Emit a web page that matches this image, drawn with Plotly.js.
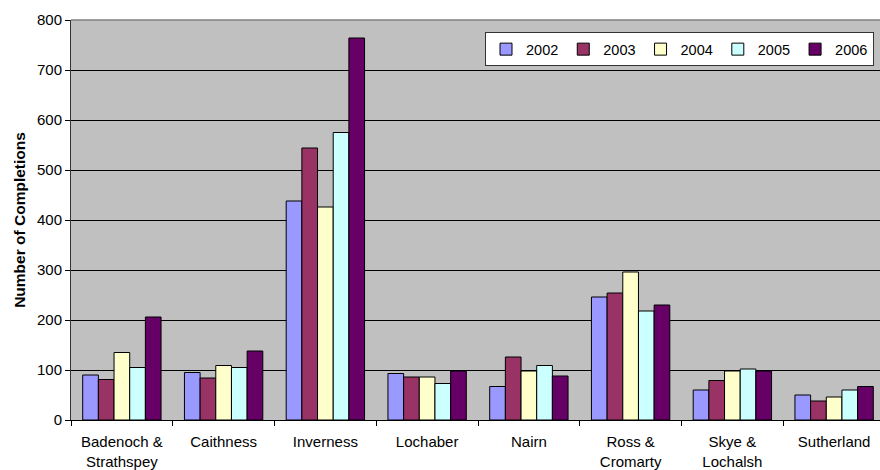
<!DOCTYPE html>
<html>
<head>
<meta charset="utf-8">
<script src="https://cdn.plot.ly/plotly-3.0.1.min.js"></script>
<style>
html,body{margin:0;padding:0;overflow:hidden;background:#fff;}
#chart{width:885px;height:470px;}
</style>
</head>
<body>
<div id="chart"></div>
<script>
var categories = ["Badenoch &<br>Strathspey","Caithness","Inverness","Lochaber","Nairn","Ross &<br>Cromarty","Skye &<br>Lochalsh","Sutherland"];
var years = ["2002","2003","2004","2005","2006"];
var v2002 = [90, 95, 438, 93, 67, 246, 60, 50];
var v2003 = [81, 84, 544, 86, 126, 254, 79, 38];
var v2004 = [135, 109, 426, 86, 98, 296, 98, 46];
var v2005 = [105, 105, 575, 73, 109, 218, 102, 60];
var v2006 = [206, 138, 764, 98, 88, 230, 98, 67];
var seriesValues = [v2002, v2003, v2004, v2005, v2006];
var colors = ["#9999FF","#993366","#FFFFCC","#CCFFFF","#660066"];
var yTicks = [0,100,200,300,400,500,600,700,800];

var FONT = "Liberation Sans, Arial, sans-serif";
var traces = years.map(function(y,i){
  return {
    type: "bar",
    name: y,
    x: categories,
    y: seriesValues[i],
    marker: {color: colors[i], line: {color: "#000000", width: 1}},
    hoverinfo: "none"
  };
});

var layout = {
  width: 885,
  height: 470,
  margin: {l: 71, r: 0, t: 19.5, b: 50, pad: 0},
  paper_bgcolor: "#ffffff",
  plot_bgcolor: "#C0C0C0",
  barmode: "group",
  bargap: 0.23,
  bargroupgap: 0,
  font: {family: FONT, color: "#000000", size: 14.5},
  showlegend: true,
  legend: {
    orientation: "h",
    x: 0.9865, xanchor: "right",
    y: 0.9695, yanchor: "top",
    bgcolor: "#ffffff",
    bordercolor: "#333333",
    borderwidth: 1,
    font: {family: FONT, size: 14.5, color: "#000000"},
    itemwidth: 30,
    traceorder: "normal"
  },
  xaxis: {
    type: "category",
    range: [-0.5, 7.5],
    tickson: "boundaries",
    ticks: "outside",
    ticklen: 5,
    tickcolor: "#000000",
    ticklabelstandoff: 8,
    showline: true,
    linecolor: "#000000",
    linewidth: 1,
    showgrid: false,
    tickfont: {family: FONT, size: 15, color: "#000000"},
    fixedrange: true
  },
  yaxis: {
    range: [0, 800],
    tickvals: yTicks,
    ticktext: yTicks.map(String),
    ticks: "outside",
    ticklen: 5,
    tickcolor: "#000000",
    showline: true,
    linecolor: "#333333",
    linewidth: 1,
    showgrid: true,
    gridcolor: "#000000",
    gridwidth: 1,
    zeroline: false,
    tickfont: {family: FONT, size: 15, color: "#000000"},
    title: {text: "<b>Number of Completions</b>", font: {family: FONT, size: 15.5, color: "#000000"}, standoff: 7},
    fixedrange: true
  },
  shapes: [{
    type: "line", xref: "paper", yref: "paper",
    x0: 0, x1: 1, y0: 1, y1: 1,
    line: {color: "#808080", width: 1.5},
    layer: "above"
  }]
};

Plotly.newPlot("chart", traces, layout, {displayModeBar: false, staticPlot: true});
</script>
</body>
</html>
